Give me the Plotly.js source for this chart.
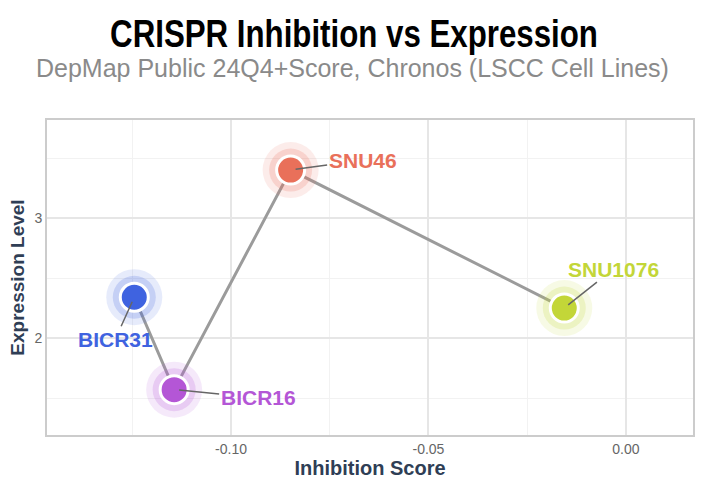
<!DOCTYPE html>
<html>
<head>
<meta charset="utf-8">
<script src="https://cdn.plot.ly/plotly-3.0.1.min.js"></script>
<style>html,body{margin:0;padding:0;background:#fff}#chart{width:708px;height:492px}</style>
</head>
<body>
<div id="chart"></div>
<script>
// Data
const cellLines = ["BICR31", "BICR16", "SNU46", "SNU1076"];
const inhibitionScore = [-0.1245, -0.1144, -0.0849, -0.0156];
const expressionLevel = [2.34, 1.57, 3.40, 2.25];
const pointColors = ["#3F63E0", "#B456D6", "#E9705A", "#C3D638"];
const xTickVals = [-0.10, -0.05, 0.00];
const xTickText = ["-0.10", "-0.05", "0.00"];
const yTickVals = [2, 3];
const yTickText = ["2", "3"];

// label offsets (pixels) for each point's callout
const labelAx = [-19, 84, 72, 49];
const labelAy = [42, 8, -10, -39];

const FONT = "Arial, 'Liberation Sans', sans-serif";

const traces = [
  {
    x: inhibitionScore, y: expressionLevel, mode: "lines", type: "scatter",
    line: {color: "#9b9b9b", width: 3}, hoverinfo: "skip", showlegend: false
  },
  {
    x: inhibitionScore, y: expressionLevel, mode: "markers", type: "scatter",
    marker: {size: 56, color: pointColors, opacity: 0.13, line: {width: 0}},
    hoverinfo: "skip", showlegend: false
  },
  {
    x: inhibitionScore, y: expressionLevel, mode: "markers", type: "scatter",
    marker: {size: 43, color: pointColors, opacity: 0.2, line: {width: 0}},
    hoverinfo: "skip", showlegend: false
  },
  {
    x: inhibitionScore, y: expressionLevel, mode: "markers", type: "scatter",
    text: cellLines,
    marker: {size: 28, color: pointColors, line: {color: "#ffffff", width: 3}},
    showlegend: false
  }
];

const annotations = cellLines.map((name, i) => ({
  x: inhibitionScore[i], y: expressionLevel[i], xref: "x", yref: "y",
  text: "<b>" + name + "</b>",
  showarrow: true, arrowhead: 0, arrowwidth: 1.5, arrowcolor: "#666666",
  ax: labelAx[i], ay: labelAy[i], standoff: 5,
  font: {family: FONT, size: 21, color: pointColors[i]}
}));
annotations.push({
  text: "DepMap Public 24Q4+Score, Chronos (LSCC Cell Lines)",
  xref: "paper", yref: "paper", x: (352 - 47) / 646, y: 1 + (120 - 68) / 315,
  xanchor: "center", yanchor: "middle", showarrow: false,
  font: {family: FONT, size: 25, color: "#8a8a8a"}
});

const layout = {
  width: 708, height: 492,
  margin: {l: 47, r: 15, t: 120, b: 57},
  paper_bgcolor: "#ffffff", plot_bgcolor: "#ffffff",
  title: {
    text: "<b>CRISPR Inhibition vs Expression</b>",
    x: 0.5, xref: "container", y: 1 - 33 / 492, yref: "container", yanchor: "middle",
    font: {family: FONT, size: 39, color: "#000000"}
  },
  xaxis: {
    range: [-0.1466, 0.0170],
    tickvals: xTickVals, ticktext: xTickText,
    showgrid: true, gridcolor: "#e6e6e6", gridwidth: 1.5,
    minor: {dtick: 0.025, showgrid: true, gridcolor: "#f2f2f2", gridwidth: 1},
    zeroline: false, showline: true, mirror: true, linecolor: "#cccccc", linewidth: 2,
    ticks: "", tickfont: {family: FONT, size: 14, color: "#666666"},
    title: {text: "<b>Inhibition Score</b>", standoff: 2,
      font: {family: FONT, size: 20, color: "#2f3e55"}}
  },
  yaxis: {
    range: [1.192, 3.817],
    tickvals: yTickVals, ticktext: yTickText,
    showgrid: true, gridcolor: "#e6e6e6", gridwidth: 1.5,
    minor: {dtick: 0.5, showgrid: true, gridcolor: "#f2f2f2", gridwidth: 1},
    zeroline: false, showline: true, mirror: true, linecolor: "#cccccc", linewidth: 2,
    ticks: "", tickfont: {family: FONT, size: 14, color: "#666666"},
    title: {text: "<b>Expression Level</b>", standoff: 5,
      font: {family: FONT, size: 19, color: "#2f3e55"}}
  },
  annotations: annotations,
  hovermode: "closest"
};

Plotly.newPlot("chart", traces, layout, {displayModeBar: false, responsive: false}).then(() => {
  // The reference title uses a condensed bold face; emulate it by narrowing the text horizontally.
  const t = document.querySelector(".g-gtitle text");
  if (t) {
    const bb = t.getBBox();
    const cx = bb.x + bb.width / 2;
    const s = 488 / bb.width;
    t.setAttribute("transform", "translate(" + (cx * (1 - s)) + ",0) scale(" + s + ",1)");
  }
});
</script>
</body>
</html>
